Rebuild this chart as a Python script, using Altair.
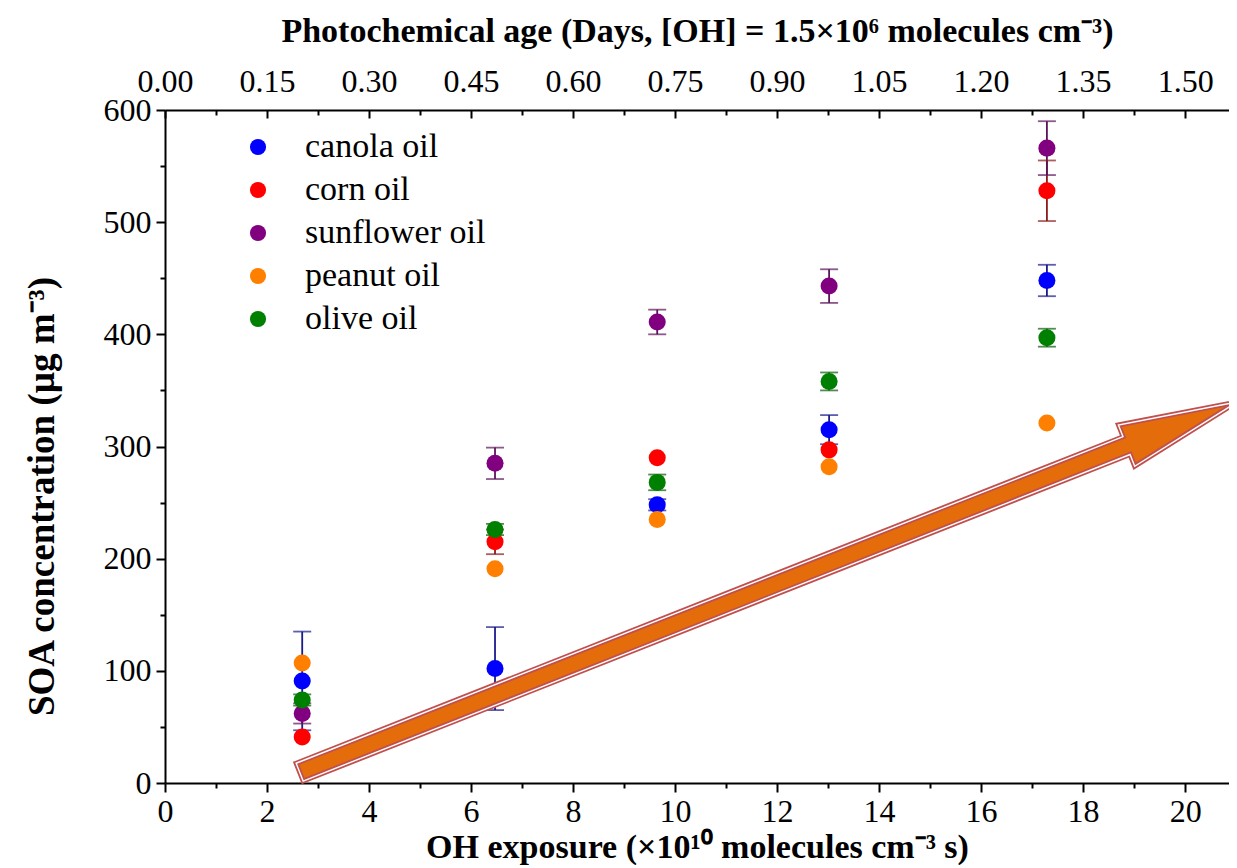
import altair as alt
import pandas as pd

# ---------------- data ----------------
oils = ["canola oil", "corn oil", "sunflower oil", "peanut oil", "olive oil"]
point_colors = ["#0000FF", "#FF0000", "#800080", "#FF8000", "#008000"]
err_colors = ["#1a1a8c", "#8b1a1a", "#5a145a", "#b35900", "#0a5a0a"]

oh_exposure = [2.69, 6.47, 9.65, 13.02, 17.29]

canola = [91, 102, 248, 315, 448]
canola_err = [44, 37, 5, 13, 14]
corn = [41, 215, 290, 297, 528]
corn_err = [0, 11, 0, 0, 27]
sunflower = [62, 285, 411, 443, 566]
sunflower_err = [9, 14, 11, 15, 24]
peanut = [107, 191, 235, 282, 321]
peanut_err = [0, 0, 0, 0, 0]
olive = [74, 226, 268, 358, 397]
olive_err = [5, 5, 7, 8, 8]

x_major = [0, 2, 4, 6, 8, 10, 12, 14, 16, 18, 20]
x_minor = [1, 3, 5, 7, 9, 11, 13, 15, 17, 19]
y_major = [0, 100, 200, 300, 400, 500, 600]
y_minor = [50, 150, 250, 350, 450, 550]
top_labels = ["0.00", "0.15", "0.30", "0.45", "0.60", "0.75", "0.90",
              "1.05", "1.20", "1.35", "1.50"]

x_title = "OH exposure (×10¹⁰ molecules cm⁻³ s)"
y_title = "SOA concentration (µg m⁻³)"
top_title = "Photochemical age (Days, [OH] = 1.5×10⁶ molecules cm⁻³)"

# decorative block arrow (centre in data units, angle in degrees)
arrow_x = [11.83]
arrow_y = [174.7]
arrow_angle = 338.45
arrow_path = ("M-1,-0.019 L0.764,-0.019 L0.764,-0.044 L1,0 "
              "L0.764,0.044 L0.764,0.019 L-1,0.019 Z")
arrow_size = 1016064

# ---------------- table ----------------
series = [canola, corn, sunflower, peanut, olive]
errors = [canola_err, corn_err, sunflower_err, peanut_err, olive_err]
rows = []
for oil, vals, errs, ec in zip(oils, series, errors, err_colors):
    for xv, yv, ev in zip(oh_exposure, vals, errs):
        rows.append({"oil": oil, "x": xv, "y": yv, "err": ev, "lo": yv - ev,
                     "hi": yv + ev, "ecol": ec})
df = pd.DataFrame(rows)
err_df = df[df["err"] > 0]
arrow_df = pd.DataFrame({"x": arrow_x, "y": arrow_y})

FONT = "Liberation Serif"
x_max = 20.86
x_scale = alt.Scale(domain=[0, x_max], nice=False, zero=False)
y_scale = alt.Scale(domain=[0, 600], nice=False, zero=False)

common = dict(grid=False, domainColor="black", tickColor="black",
              labelColor="black", titleColor="black", tickWidth=2,
              domainWidth=2)


def tick_axis(orient, values, size, offset=0):
    return alt.Axis(orient=orient, values=values, labels=False, domain=False,
                    title=None, tickSize=size, offset=offset, **common)


ax_bottom = alt.Axis(orient="bottom", values=x_major, format="d",
                     title=x_title, tickSize=9, labelFont=FONT,
                     labelFontSize=32, labelPadding=4, titleFont=FONT,
                     titleFontSize=34, titleFontWeight="bold",
                     titlePadding=3, labelFlush=False, **common)
ax_left = alt.Axis(orient="left", values=y_major, format="d", title=y_title,
                   tickSize=9, labelFont=FONT, labelFontSize=32,
                   labelPadding=5, titleFont=FONT, titleFontSize=37,
                   titleFontWeight="bold", titlePadding=42, titleY=386,
                   labelFlush=False, **common)
label_array = "[" + ",".join("'" + s + "'" for s in top_labels) + "]"
ax_top = alt.Axis(orient="top", values=x_major, ticks=False, tickSize=0,
                  labelExpr=label_array + "[round(datum.value/2)]",
                  title=top_title, labelFont=FONT, labelFontSize=32,
                  labelPadding=12, titleFont=FONT, titleFontSize=34,
                  titleFontWeight="bold", titlePadding=17, labelFlush=False,
                  **common)

err_base = alt.Chart(err_df)

err_rule = err_base.mark_rule(strokeWidth=1.8).encode(
    x=alt.X("x:Q", scale=x_scale, axis=tick_axis("bottom", x_minor, 5)),
    y=alt.Y("lo:Q", scale=y_scale, axis=tick_axis("left", y_minor, 5)),
    y2="hi:Q",
    color=alt.Color("ecol:N", scale=None),
)
cap_lo = err_base.mark_tick(orient="horizontal", size=18, thickness=1.8).encode(
    x=alt.X("x:Q", scale=x_scale, axis=tick_axis("top", x_minor, 5, -5)),
    y=alt.Y("lo:Q", scale=y_scale, axis=None),
    color=alt.Color("ecol:N", scale=None),
)
cap_hi = err_base.mark_tick(orient="horizontal", size=18, thickness=1.8).encode(
    x=alt.X("x:Q", scale=x_scale, axis=tick_axis("top", x_major, 8, -8)),
    y=alt.Y("hi:Q", scale=y_scale, axis=None),
    color=alt.Color("ecol:N", scale=None),
)
points = alt.Chart(df).mark_circle(size=290, strokeWidth=0).encode(
    x=alt.X("x:Q", scale=x_scale, axis=ax_bottom),
    y=alt.Y("y:Q", scale=y_scale, axis=ax_left),
    opacity=alt.value(1),
    color=alt.Color(
        "oil:N",
        scale=alt.Scale(domain=oils, range=point_colors),
        legend=alt.Legend(orient="none", legendX=76, legendY=20, title=None,
                          labelFont=FONT, labelFontSize=34, labelLimit=500,
                          labelColor="black", symbolType="circle",
                          symbolSize=260, symbolStrokeWidth=0,
                          rowPadding=9, labelOffset=30, padding=0),
    ),
)

arrow_fill = alt.Chart(arrow_df).mark_point(
    shape=arrow_path, size=arrow_size, angle=arrow_angle, filled=True,
    fill="#E46C0A", stroke="#C0504D", strokeWidth=5, opacity=1,
    fillOpacity=1, strokeOpacity=1,
).encode(
    x=alt.X("x:Q", scale=x_scale, axis=ax_top),
    y=alt.Y("y:Q", scale=y_scale, axis=None),
)
arrow_line = alt.Chart(arrow_df).mark_point(
    shape=arrow_path, size=arrow_size, angle=arrow_angle, filled=False,
    fill="transparent", stroke="white", strokeWidth=1.4,
    opacity=1, strokeOpacity=1,
).encode(
    x=alt.X("x:Q", scale=x_scale, axis=None),
    y=alt.Y("y:Q", scale=y_scale, axis=None),
)

chart = alt.layer(
    err_rule, cap_lo, cap_hi, points, arrow_fill, arrow_line
).resolve_axis(
    x="independent", y="independent"
).properties(
    width=1064, height=673,
    autosize=alt.AutoSizeParams(type="none"),
    padding={"left": 157, "top": 102, "right": 0, "bottom": 82},
    background="white",
).configure_view(stroke=None).configure_legend(symbolOpacity=1)

chart.save("out.html", embed_options={"renderer": "svg", "actions": False})
